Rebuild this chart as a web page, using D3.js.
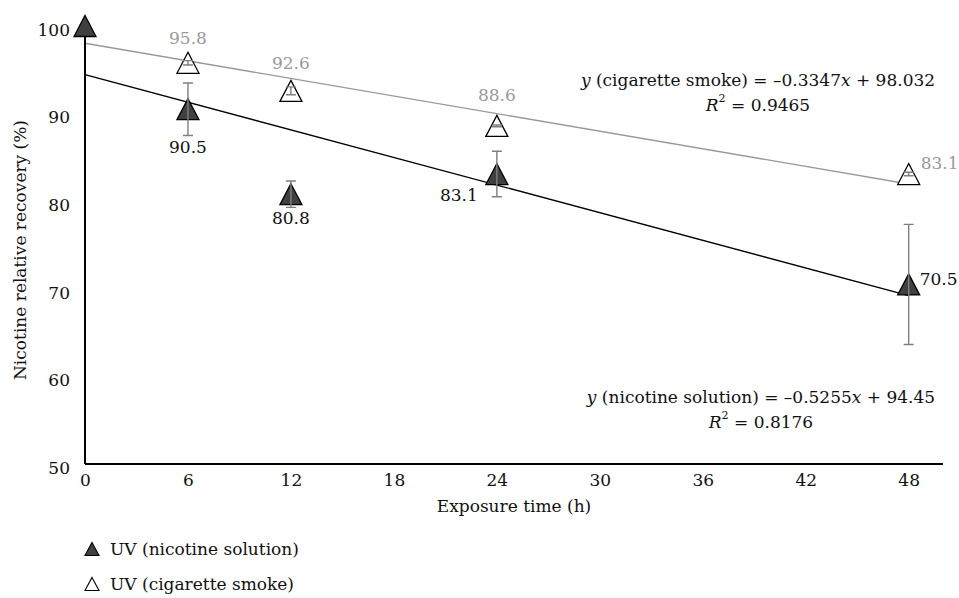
<!DOCTYPE html>
<html>
<head>
<meta charset="utf-8">
<script src="https://cdn.jsdelivr.net/npm/d3@7/dist/d3.min.js"></script>
<style>
  html, body { margin: 0; padding: 0; background: #fff; }
  svg { display: block; }
</style>
</head>
<body>
<svg id="chart" width="959" height="598"></svg>
<script>
// Exposure times (h) and relative recovery (%) under UV light
const solutionHours = [0, 6, 12, 24, 48];
const solutionMean  = [100, 90.5, 80.8, 83.1, 70.5];
const solutionErr   = [0, 3.0, 1.5, 2.6, 6.85];

const smokeHours = [6, 12, 24, 48];
const smokeMean  = [95.8, 92.6, 88.6, 83.1];
const smokeErr   = [0.25, 0.45, 0.1, 0.2];

// Linear fits
const solutionFit = [-0.5255, 94.45, 0.8176]; // slope, intercept, R²
const smokeFit    = [-0.3347, 98.032, 0.9465];

const xTicks = [0, 6, 12, 18, 24, 30, 36, 42, 48];
const yTicks = [50, 60, 70, 80, 90, 100];

const seriesNames = ["UV (nicotine solution)", "UV (cigarette smoke)"];
const xTitle = "Exposure time (h)";
const yTitle = "Nicotine relative recovery (%)";

const svg = d3.select("#chart");
const FS = 17;
const FONT = "DejaVu Serif";

const x = d3.scaleLinear().domain([0, 50]).range([85, 943]);
const y = d3.scaleLinear().domain([50, 100]).range([464, 26]);

const dark = "#404040", grey = "#999999", errGrey = "#7f7f7f";

// triangle marker centred on its bounding box
function tri(w, h) {
  return `M0,${-h / 2}L${w / 2},${h / 2}L${-w / 2},${h / 2}Z`;
}

// trend lines
function fitLine(fit, color) {
  const xs = [0, 48];
  svg.append("path")
    .attr("d", d3.line().x(d => x(d)).y(d => y(fit[0] * d + fit[1]))(xs))
    .attr("fill", "none").attr("stroke", color).attr("stroke-width", 1.4);
}
fitLine(smokeFit, grey);
fitLine(solutionFit, "#000");

// axes
const xAxis = svg.append("g").attr("transform", `translate(0,${y(50)})`)
  .call(d3.axisBottom(x).tickValues(xTicks).tickSize(0).tickPadding(10));
xAxis.attr("font-family", FONT);
xAxis.select(".domain").attr("stroke", "#000").attr("stroke-width", 2)
  .attr("d", `M${x(0)},0H${x(50)}`);
xAxis.selectAll("text").attr("font-size", FS).attr("fill", "#111");

const yAxis = svg.append("g").attr("transform", `translate(${x(0)},0)`)
  .call(d3.axisLeft(y).tickValues(yTicks).tickSize(0).tickPadding(15));
yAxis.attr("font-family", FONT);
yAxis.select(".domain").attr("stroke", "#000").attr("stroke-width", 2)
  .attr("d", `M0,${y(100)}V${y(50)}`);
yAxis.selectAll("text").attr("font-size", FS).attr("fill", "#111")
  .attr("dy", "0.55em");

// axis titles
svg.append("text").attr("x", 514).attr("y", 506)
  .attr("text-anchor", "middle").attr("dominant-baseline", "central")
  .attr("font-family", FONT)
  .attr("font-size", FS).attr("fill", "#111").text(xTitle);
svg.append("text")
  .attr("transform", `translate(20,${250}) rotate(-90)`)
  .attr("text-anchor", "middle").attr("dominant-baseline", "central")
  .attr("font-family", FONT)
  .attr("font-size", FS).attr("fill", "#111").text(yTitle);

// error bars
function errorBars(hours, mean, err, color) {
  const g = svg.append("g").attr("stroke", color).attr("stroke-width", 1.4).attr("fill", "none");
  hours.forEach((h, i) => {
    if (!err[i]) return;
    const cx = x(h), y0 = y(mean[i] - err[i]), y1 = y(mean[i] + err[i]);
    g.append("path").attr("d", `M${cx},${y0}V${y1}M${cx - 5},${y0}H${cx + 5}M${cx - 5},${y1}H${cx + 5}`);
  });
}

// smoke series (hollow)
svg.append("g").selectAll("path").data(smokeHours).join("path")
  .attr("d", tri(22, 21))
  .attr("transform", (d, i) => `translate(${x(d)},${y(smokeMean[i])})`)
  .attr("fill", "#fff").attr("stroke", "#000").attr("stroke-width", 1.3);
errorBars(smokeHours, smokeMean, smokeErr, errGrey);

// solution series (filled)
svg.append("g").selectAll("path").data(solutionHours).join("path")
  .attr("d", tri(22, 21))
  .attr("transform", (d, i) => `translate(${x(d)},${y(solutionMean[i])})`)
  .attr("fill", dark).attr("stroke", "#000").attr("stroke-width", 1.3);
errorBars(solutionHours, solutionMean, solutionErr, errGrey);

// value labels: [dx, dy, anchor] per point
const smokeLabelPos = [[0, -25, "middle"], [0, -28, "middle"], [0, -31, "middle"], [12, -11, "start"]];
const solutionLabelPos = [null, [0, 38, "middle"], [0, 24, "middle"], [-19, 21, "end"], [11, -5, "start"]];

function valueLabels(hours, mean, pos, color) {
  hours.forEach((h, i) => {
    const p = pos[i];
    if (!p) return;
    svg.append("text")
      .attr("x", x(h) + p[0]).attr("y", y(mean[i]) + p[1])
      .attr("text-anchor", p[2]).attr("dominant-baseline", "central")
      .attr("font-family", FONT)
      .attr("font-size", FS).attr("fill", color)
      .text(d3.format(".1f")(mean[i]));
  });
}
valueLabels(smokeHours, smokeMean, smokeLabelPos, grey);
valueLabels(solutionHours, solutionMean, solutionLabelPos, "#111");

// regression equations
function equation(cx, cy, name, fit) {
  const t = svg.append("text").attr("x", cx).attr("y", cy)
    .attr("text-anchor", "middle").attr("dominant-baseline", "central")
    .attr("font-family", FONT)
    .attr("font-size", FS).attr("fill", "#111");
  t.append("tspan").attr("font-style", "italic").text("y");
  t.append("tspan").text(` (${name}) = \u2013${Math.abs(fit[0])}`);
  t.append("tspan").attr("font-style", "italic").text("x");
  t.append("tspan").text(` + ${fit[1]}`);

  const r = svg.append("text").attr("x", cx).attr("y", cy + 25)
    .attr("text-anchor", "middle").attr("dominant-baseline", "central")
    .attr("font-family", FONT)
    .attr("font-size", FS).attr("fill", "#111");
  r.append("tspan").attr("font-style", "italic").text("R");
  r.append("tspan").attr("font-size", FS * 0.65).attr("dy", -7).text("2");
  r.append("tspan").attr("dy", 7).text(` = ${fit[2]}`);
}
equation(758, 80, "cigarette smoke", smokeFit);
equation(761, 397, "nicotine solution", solutionFit);

// legend
const legend = svg.append("g");
seriesNames.forEach((name, i) => {
  const ly = 549 + i * 35;
  legend.append("path").attr("d", tri(14, 13))
    .attr("transform", `translate(92,${ly})`)
    .attr("fill", i === 0 ? dark : "#fff").attr("stroke", "#000").attr("stroke-width", 1.1);
  legend.append("text").attr("x", 110).attr("y", ly)
    .attr("dominant-baseline", "central")
    .attr("font-family", FONT)
    .attr("font-size", FS).attr("fill", "#111").text(name);
});
</script>
</body>
</html>
